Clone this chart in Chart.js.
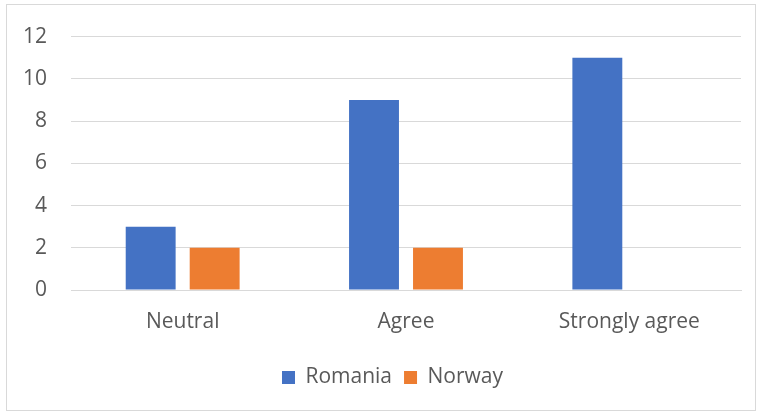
<!DOCTYPE html>
<html>
<head>
<meta charset="utf-8">
<script src="https://cdn.jsdelivr.net/npm/chart.js@4/dist/chart.umd.min.js"></script>
<style>
  html, body { margin: 0; padding: 0; background: #fff; }
  #wrap { position: relative; width: 763px; height: 414px; }
  #frame { position: absolute; left: 6px; top: 4px; width: 748px; height: 405px; border: 1px solid #d9d9d9; }
  canvas { position: absolute; left: 0; top: 0; }
</style>
</head>
<body>
<div id="wrap">
  <div id="frame"></div>
  <canvas id="chart" width="763" height="414"></canvas>
</div>
<script>
const categories = ['Neutral', 'Agree', 'Strongly agree'];
const romania = [3, 9, 11];
const norway = [2, 2, 0];
const yTicks = [0, 2, 4, 6, 8, 10, 12];

const FONT = "'Open Sans', 'Liberation Sans', sans-serif";
const TEXT = '#595959';
const GRID = '#d9d9d9';

// nudge the legend right so it sits where the original one does
const legendShift = {
    id: 'legendShift',
    afterLayout(chart) {
        chart.legend.left += 22;
        chart.legend.right += 22;
    }
};

const ctx = document.getElementById('chart').getContext('2d');
const chart = new Chart(ctx, {
    type: 'bar',
    data: {
        labels: categories,
        datasets: [
            { label: 'Romania', data: romania, backgroundColor: '#4472C4' },
            { label: 'Norway', data: norway, backgroundColor: '#ED7D31' }
        ]
    },
    options: {
        responsive: false,
        animation: false,
        datasets: {
            bar: { categoryPercentage: 0.573, barPercentage: 0.78 }
        },
        layout: { padding: { left: 0, right: 22, top: 33, bottom: 16 } },
        plugins: {
            legend: {
                position: 'bottom',
                labels: {
                    boxWidth: 13,
                    boxHeight: 13,
                    padding: 12,
                    color: TEXT,
                    font: { family: FONT, size: 21 }
                }
            },
            tooltip: { enabled: false }
        },
        scales: {
            x: {
                grid: { display: false, drawTicks: false },
                border: { color: GRID },
                ticks: { color: TEXT, padding: 19, font: { family: FONT, size: 21 } },
                afterFit: s => { s.height = 65; }
            },
            y: {
                min: 0,
                max: 12,
                afterBuildTicks: s => { s.ticks = yTicks.map(v => ({ value: v })); },
                grid: { color: GRID, drawTicks: false },
                border: { display: false },
                ticks: { color: TEXT, padding: 24, font: { family: FONT, size: 21 } },
                afterFit: s => { s.width = 71; }
            }
        }
    },
    plugins: [legendShift]
});
</script>
</body>
</html>
